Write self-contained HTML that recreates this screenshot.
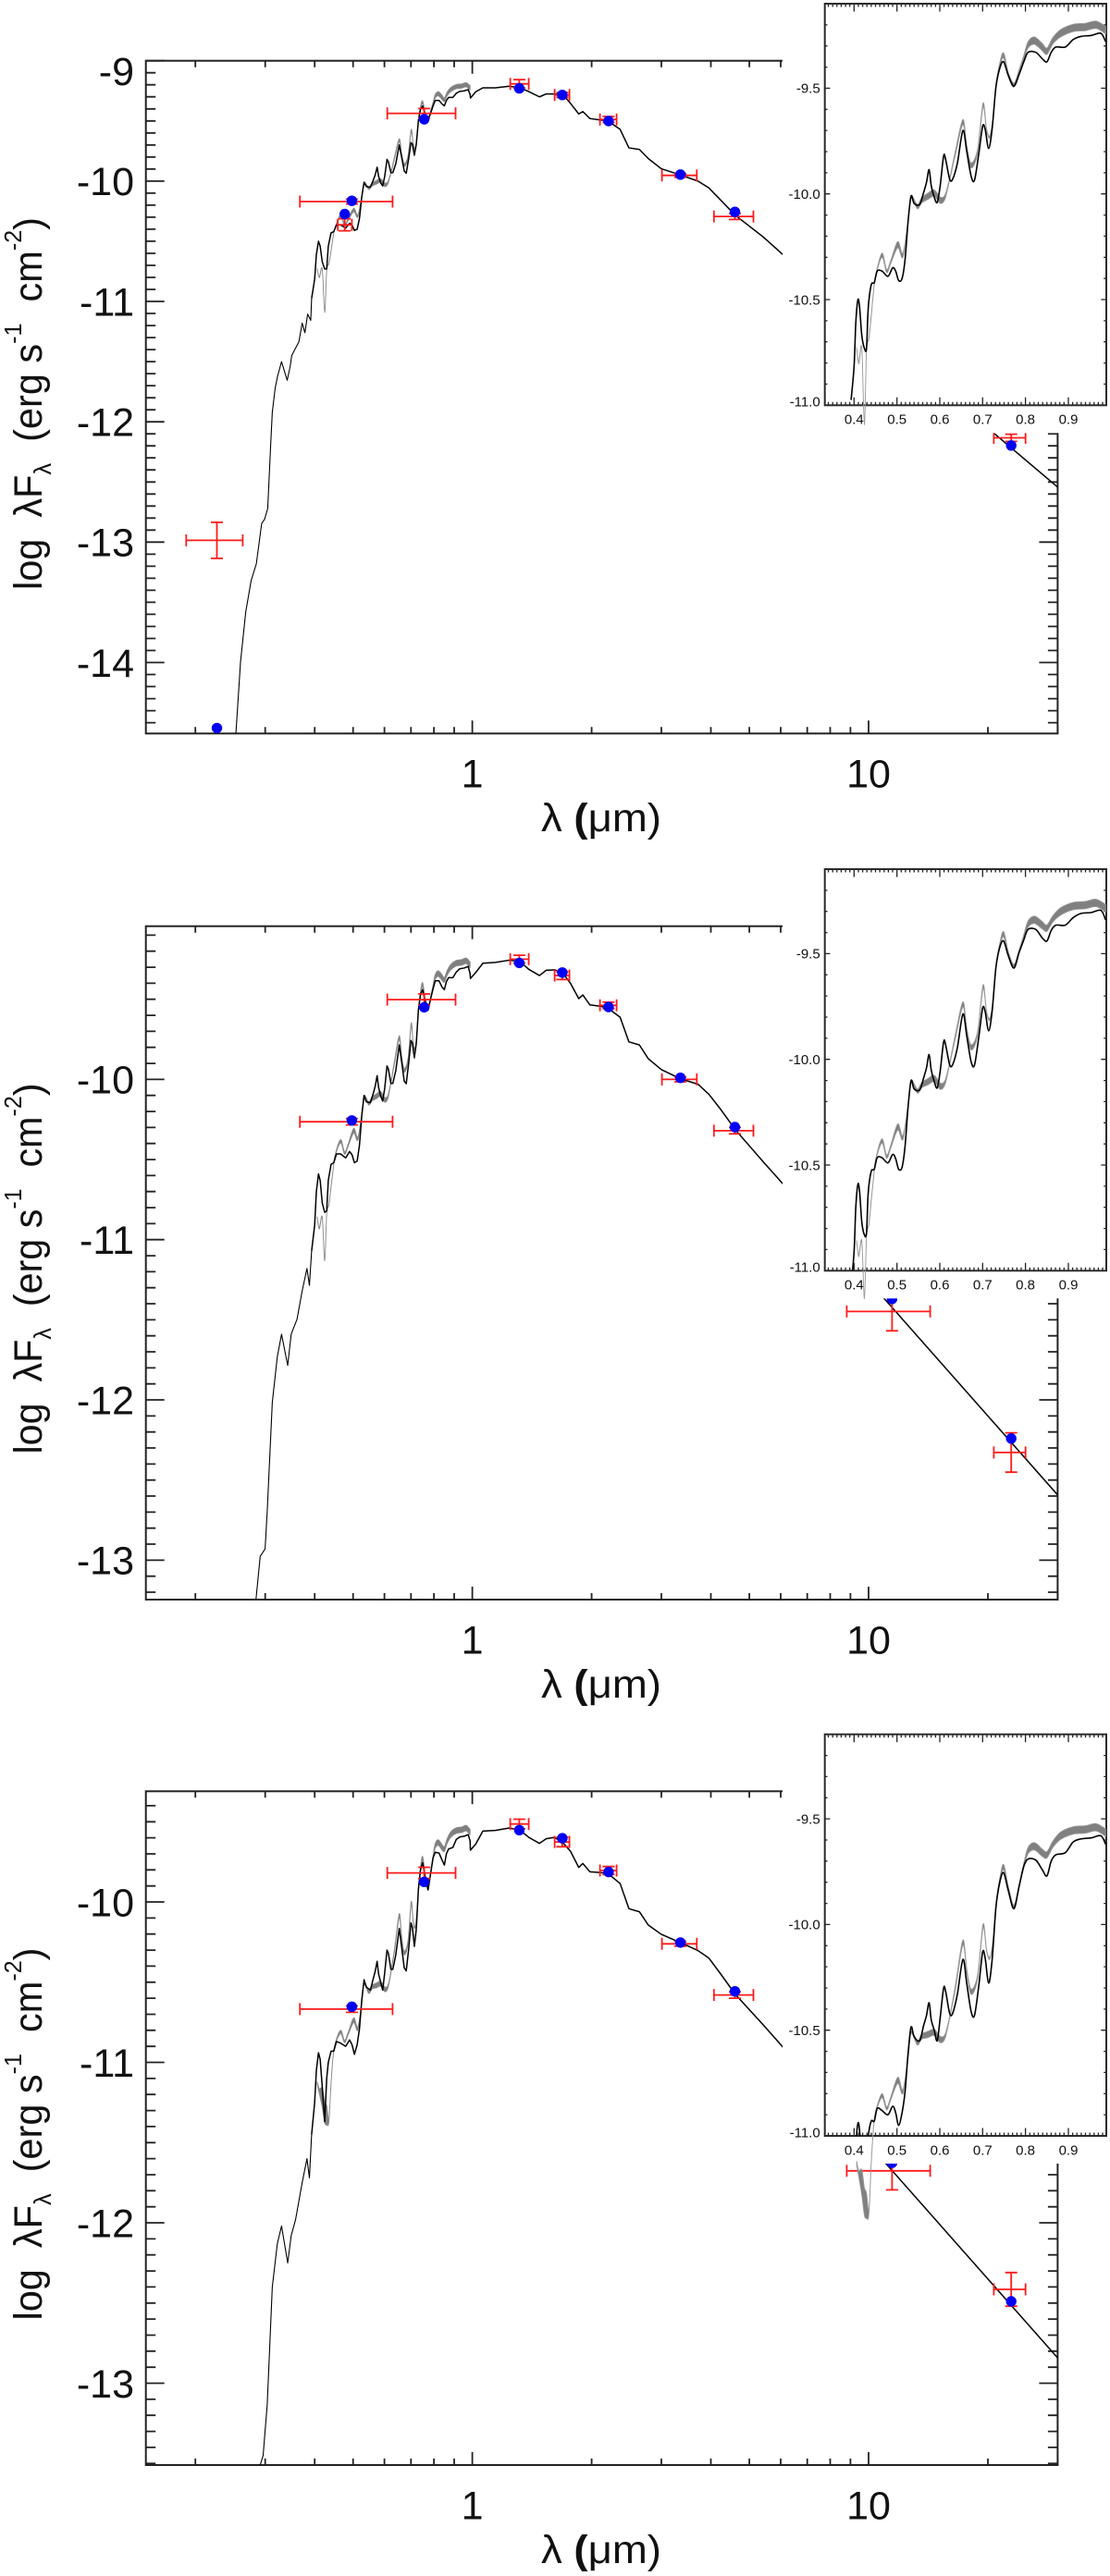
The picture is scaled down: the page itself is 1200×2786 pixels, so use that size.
<!DOCTYPE html>
<html lang="en">
<head>
<meta charset="utf-8">
<title>Spectral energy distributions</title>
<style>
html,body{margin:0;padding:0;background:#fff;}
svg{display:block;}
text{font-family:"Liberation Sans",sans-serif;fill:#111;white-space:pre;}
</style>
</head>
<body>
<svg id="chart" xmlns="http://www.w3.org/2000/svg" width="1200" height="2786" viewBox="0 0 1200 2786">
  <rect x="0" y="0" width="1200" height="2786" fill="#fff"/>
  <defs>
    <clipPath id="clip-main-0"><rect x="157.7" y="65.7" width="985.7" height="727.6"/></clipPath>
    <clipPath id="clip-main-1"><rect x="157.7" y="1001.7" width="985.7" height="728.3"/></clipPath>
    <clipPath id="clip-main-2"><rect x="157.7" y="1937.3" width="985.7" height="728.7"/></clipPath>
    <clipPath id="clip-inset-0"><rect x="891.7" y="4" width="304.3" height="434.3"/></clipPath>
    <clipPath id="clip-inset-1"><rect x="891.7" y="940" width="304.3" height="434.3"/></clipPath>
    <clipPath id="clip-inset-2"><rect x="891.7" y="1875.7" width="304.3" height="434.3"/></clipPath>
  </defs>

  <g id="panel-0"></g>
  <g id="panel-1"></g>
  <g id="panel-2"></g>

  <text transform="rotate(-90 45 436.5)" x="45" y="436.5" font-size="43" text-anchor="middle" textLength="403" lengthAdjust="spacingAndGlyphs">log  λF<tspan dy="10" font-size="26">λ</tspan><tspan dy="-10">  (erg s</tspan><tspan dy="-22" font-size="26">-1</tspan><tspan dy="22">  cm</tspan><tspan dy="-22" font-size="26">-2</tspan><tspan dy="22">)</tspan></text>
  <text transform="rotate(-90 45 1372)" x="45" y="1372" font-size="43" text-anchor="middle" textLength="401" lengthAdjust="spacingAndGlyphs">log  λF<tspan dy="10" font-size="26">λ</tspan><tspan dy="-10">  (erg s</tspan><tspan dy="-22" font-size="26">-1</tspan><tspan dy="22">  cm</tspan><tspan dy="-22" font-size="26">-2</tspan><tspan dy="22">)</tspan></text>
  <text transform="rotate(-90 45 2308)" x="45" y="2308" font-size="43" text-anchor="middle" textLength="403" lengthAdjust="spacingAndGlyphs">log  λF<tspan dy="10" font-size="26">λ</tspan><tspan dy="-10">  (erg s</tspan><tspan dy="-22" font-size="26">-1</tspan><tspan dy="22">  cm</tspan><tspan dy="-22" font-size="26">-2</tspan><tspan dy="22">)</tspan></text>

  <text x="650" y="899" font-size="43" text-anchor="middle" textLength="130" lengthAdjust="spacingAndGlyphs">λ <tspan font-weight="bold">(</tspan>μm)</text>
  <text x="650" y="1836" font-size="43" text-anchor="middle" textLength="130" lengthAdjust="spacingAndGlyphs">λ <tspan font-weight="bold">(</tspan>μm)</text>
  <text x="650" y="2772" font-size="43" text-anchor="middle" textLength="130" lengthAdjust="spacingAndGlyphs">λ <tspan font-weight="bold">(</tspan>μm)</text>
</svg>

<script>
// ---- axis tick values and labels ----
const mainXMajor = [1, 10];
const mainXMajorLabels = ["1", "10"];
const mainXMinor = [0.2, 0.3, 0.4, 0.5, 0.6, 0.7, 0.8, 0.9, 2, 3, 4, 5, 6, 7, 8, 9, 20, 30];
const p1YTicks = [-9, -10, -11, -12, -13, -14];
const p1YLabels = ["-9", "-10", "-11", "-12", "-13", "-14"];
const p23YTicks = [-10, -11, -12, -13];
const p23YLabels = ["-10", "-11", "-12", "-13"];
const insetXTicks = [0.4, 0.5, 0.6, 0.7, 0.8, 0.9];
const insetXLabels = ["0.4", "0.5", "0.6", "0.7", "0.8", "0.9"];
const insetYTicks = [-9.5, -10, -10.5, -11];
const insetYLabels = ["-9.5", "-10.0", "-10.5", "-11.0"];

// ---- shared wavelengths (micron) ----
const optLam = [.393,.400,.404,.409,.413,.418,.424,.429,.433,.440,.447,.454,.465,.479,.490,.497,.504,.512,.519,.526,.533,.540,.553,.562,.569,.575,.580,.587,.594,.601,.609,.614,.623,.630,.641,.654,.663,.673,.681,.691,.700,.706,.714,.722,.731,.740,.749,.760,.773,.785,.796,.806,.824,.839,.850,.860,.871,.893,.911,.929,.954,.976,.987];
const irLam = [.989,1.02,1.063,1.143,1.24,1.32,1.388,1.477,1.536,1.613,1.698,1.768,1.856,1.90,1.98,2.11,2.195,2.36,2.484,2.64,2.78,3.0,3.35,3.71,3.95,4.24,4.61,5.43,6.05,30];
const grayLam = [.406,.411,.418,.424,.429,.4345,.44,.445,.45,.465,.476,.486,.502,.514,.526,.533,.5475,.558,.573,.587,.601,.612,.623,.637,.654,.663,.673,.688,.701,.709,.7165,.724,.731,.74,.749,.76,.773,.785,.796,.806,.821,.839,.85,.864,.882,.911,.94,.965,.987];
const grayWidthA = [.005,.01,.005,.005,.005,.005,.005,.005,.008,.02,.015,.015,.03,.02,.01,.01,.02,.025,.03,.03,.03,.02,.01,.02,.025,.02,.025,.02,.02,.01,.01,.01,.01,.02,.025,.02,.02,.015,.02,.03,.035,.035,.03,.03,.035,.035,.035,.035,.035];
const grayWidthC = [.02,.03,.12,.13,.12,.02,.005,.005,.008,.02,.015,.015,.03,.02,.01,.01,.02,.025,.03,.03,.03,.02,.01,.02,.025,.02,.025,.02,.02,.01,.01,.01,.01,.02,.025,.02,.02,.015,.02,.03,.035,.035,.03,.03,.035,.035,.035,.035,.035];

// ---- photometric band wavelengths and widths ----
const lamLoP1 = [.1896,.4576,.367,.61,1.246,1.613,2.099,3.01,4.07,20.7];
const lamHiP1 = [.2634,.4966,.629,.907,1.388,1.758,2.312,3.686,5.12,24.9];
const photLamP1 = [.2267,.4764,.4965,.756,1.314,1.687,2.207,3.35,4.6,22.9];
const lamLoP23 = [.367,.61,1.246,1.613,2.099,3.01,4.07,8.81,20.7];
const lamHiP23 = [.629,.907,1.388,1.758,2.312,3.686,5.12,14.3,24.9];
const photLamP23 = [.4965,.756,1.314,1.687,2.207,3.35,4.6,11.46,22.9];

// ---- panel 1 series ----
const p1UvLam = [.253,.260,.268,.2765,.285,.294,.299,.3045,.3097,.3127,.318,.3225,.330,.341,.347,.350,.365,.372,.378,.384,.391];
const p1UvFlux = [-14.6,-13.995,-13.58,-13.32,-13.18,-12.845,-12.81,-12.72,-12.2,-11.92,-11.72,-11.62,-11.50,-11.655,-11.54,-11.45,-11.335,-11.18,-11.26,-11.105,-11.157];
const p1OptFlux = [-10.975,-10.815,-10.61,-10.50,-10.54,-10.67,-10.73,-10.73,-10.54,-10.43,-10.42,-10.365,-10.365,-10.39,-10.35,-10.365,-10.41,-10.40,-10.31,-10.13,-10.01,-10.045,-10.05,-9.995,-9.945,-9.885,-9.96,-10.015,-10.04,-9.96,-9.82,-9.84,-9.93,-9.93,-9.855,-9.70,-9.80,-9.915,-9.935,-9.81,-9.68,-9.695,-9.785,-9.695,-9.495,-9.405,-9.375,-9.44,-9.49,-9.435,-9.375,-9.33,-9.33,-9.36,-9.375,-9.33,-9.305,-9.305,-9.27,-9.255,-9.25,-9.24,-9.28];
const p1IrFlux = [-9.31,-9.258,-9.225,-9.225,-9.212,-9.225,-9.256,-9.30,-9.276,-9.276,-9.287,-9.353,-9.442,-9.422,-9.48,-9.493,-9.499,-9.57,-9.724,-9.737,-9.813,-9.898,-9.949,-10.0,-10.056,-10.16,-10.284,-10.466,-10.605,-12.543];
const p1GrayFlux = [-10.73,-10.80,-10.73,-11.09,-10.74,-10.685,-10.58,-10.47,-10.39,-10.29,-10.365,-10.32,-10.24,-10.29,-10.13,-10.015,-10.06,-10.03,-10.01,-9.995,-10.03,-10.015,-9.93,-9.80,-9.66,-9.78,-9.865,-9.80,-9.58,-9.695,-9.73,-9.65,-9.49,-9.39,-9.345,-9.435,-9.485,-9.42,-9.355,-9.295,-9.275,-9.305,-9.325,-9.275,-9.24,-9.215,-9.21,-9.2,-9.225];
const p1Model = [-14.545,-10.274,-10.164,-9.486,-9.23,-9.284,-9.501,-9.946,-10.256,-12.197];
const p1Obs = [-12.985,-10.363,-10.17,-9.437,-9.192,-9.284,-9.488,-9.953,-10.294,-12.133];
const p1Err = [.15,.05,.02,.04,.035,.02,.025,.015,.025,.03];

// ---- panel 2 series ----
const p2UvLam = [.2844,.2915,.2999,.3037,.3127,.322,.33,.342,.349,.361,.372,.3825,.388];
const p2UvFlux = [-13.246,-12.976,-12.93,-12.69,-12.016,-11.73,-11.59,-11.785,-11.59,-11.497,-11.32,-11.18,-11.285];
const p2OptFlux = [-11.07,-10.91,-10.70,-10.59,-10.63,-10.77,-10.83,-10.82,-10.63,-10.53,-10.52,-10.465,-10.465,-10.49,-10.45,-10.47,-10.52,-10.51,-10.41,-10.225,-10.10,-10.14,-10.145,-10.09,-10.04,-9.977,-10.05,-10.105,-10.135,-10.055,-9.916,-9.935,-10.025,-10.025,-9.945,-9.785,-9.89,-10.01,-10.027,-9.895,-9.757,-9.775,-9.865,-9.775,-9.565,-9.47,-9.44,-9.51,-9.568,-9.495,-9.435,-9.385,-9.385,-9.425,-9.44,-9.39,-9.365,-9.365,-9.33,-9.31,-9.305,-9.295,-9.34];
const p2IrFlux = [-9.37,-9.333,-9.275,-9.27,-9.256,-9.265,-9.313,-9.352,-9.319,-9.316,-9.342,-9.40,-9.496,-9.473,-9.535,-9.544,-9.554,-9.612,-9.766,-9.785,-9.871,-9.939,-9.996,-10.03,-10.092,-10.189,-10.314,-10.516,-10.646,-12.593];
const p2GrayFlux = [-10.86,-10.93,-10.86,-11.13,-10.84,-10.78,-10.67,-10.57,-10.48,-10.386,-10.46,-10.41,-10.32,-10.37,-10.22,-10.105,-10.15,-10.122,-10.105,-10.09,-10.127,-10.11,-10.02,-9.885,-9.74,-9.86,-9.943,-9.88,-9.657,-9.775,-9.81,-9.73,-9.565,-9.46,-9.408,-9.50,-9.56,-9.49,-9.42,-9.36,-9.34,-9.365,-9.379,-9.335,-9.30,-9.275,-9.27,-9.26,-9.285];
const p2Model = [-10.256,-9.55,-9.273,-9.333,-9.548,-9.99,-10.298,-11.37,-12.241];
const p2Obs = [-10.264,-9.502,-9.25,-9.352,-9.538,-10.0,-10.32,-11.448,-12.328];
const p2Err = [.02,.035,.025,.025,.02,.015,.02,.121,.123];

// ---- panel 3 series ----
const p3UvLam = [.2915,.2965,.3037,.3127,.322,.33,.342,.349,.358,.372,.3825,.388];
const p3UvFlux = [-13.51,-13.45,-13.13,-12.4,-12.13,-12.02,-12.25,-12.08,-11.98,-11.75,-11.60,-11.72];
const p3OptFlux = [-11.45,-11.25,-11.05,-10.94,-10.98,-11.15,-11.37,-11.1,-11.0,-10.93,-10.93,-10.87,-10.88,-10.90,-10.86,-10.89,-10.95,-10.89,-10.79,-10.61,-10.485,-10.53,-10.55,-10.48,-10.43,-10.37,-10.45,-10.50,-10.55,-10.44,-10.30,-10.32,-10.42,-10.42,-10.33,-10.165,-10.28,-10.41,-10.43,-10.29,-10.13,-10.16,-10.277,-10.17,-9.92,-9.80,-9.755,-9.84,-9.925,-9.82,-9.725,-9.69,-9.695,-9.74,-9.77,-9.70,-9.67,-9.66,-9.61,-9.595,-9.59,-9.58,-9.62];
const p3IrFlux = [-9.677,-9.639,-9.558,-9.554,-9.539,-9.554,-9.597,-9.635,-9.606,-9.597,-9.635,-9.683,-9.785,-9.76,-9.812,-9.817,-9.821,-9.885,-10.042,-10.061,-10.144,-10.202,-10.253,-10.303,-10.349,-10.451,-10.576,-10.768,-10.899,-12.842];
const p3GrayFlux = [-11.13,-11.18,-11.22,-11.31,-11.33,-11.36,-11.13,-10.97,-10.89,-10.81,-10.87,-10.82,-10.737,-10.79,-10.63,-10.51,-10.56,-10.53,-10.52,-10.51,-10.544,-10.53,-10.44,-10.29,-10.085,-10.22,-10.318,-10.25,-10.007,-10.12,-10.16,-10.08,-9.91,-9.79,-9.728,-9.83,-9.917,-9.82,-9.72,-9.65,-9.63,-9.66,-9.67,-9.62,-9.58,-9.555,-9.55,-9.54,-9.565];
const p3Model = [-10.653,-9.875,-9.552,-9.603,-9.813,-10.253,-10.557,-11.626,-12.49];
const p3Obs = [-10.668,-9.819,-9.514,-9.626,-9.804,-10.261,-10.58,-11.676,-12.415];
const p3Err = [.02,.035,.03,.03,.025,.015,.02,.119,.105];

const SVGNS = "http://www.w3.org/2000/svg";
const MAIN_L = 157.7, MAIN_R = 1143.4, LAM_MIN = 0.15, LAM_MAX = 30;
const INS_L = 891.7, INS_R = 1196, INS_XMIN = 0.3317, INS_XMAX = 0.9886, INS_YTOP = -9.10, INS_YBOT = -11, INS_H = 434.3;

const panels = [
  {top:65.7, bottom:793.3, yTop:-9, yBot:-14.59, insTop:4, coverTop:0,
   yTicks:p1YTicks, yLabels:p1YLabels,
   uvLam:p1UvLam, uvFlux:p1UvFlux, opt:p1OptFlux, ir:p1IrFlux, gray:p1GrayFlux, grayW:grayWidthA,
   photLam:photLamP1, lo:lamLoP1, hi:lamHiP1, model:p1Model, obs:p1Obs, err:p1Err},
  {top:1001.7, bottom:1730, yTop:-9.044, yBot:-13.246, insTop:940, coverTop:925,
   yTicks:p23YTicks, yLabels:p23YLabels,
   uvLam:p2UvLam, uvFlux:p2UvFlux, opt:p2OptFlux, ir:p2IrFlux, gray:p2GrayFlux, grayW:grayWidthA,
   photLam:photLamP23, lo:lamLoP23, hi:lamHiP23, model:p2Model, obs:p2Obs, err:p2Err},
  {top:1937.3, bottom:2666, yTop:-9.31, yBot:-13.51, insTop:1875.7, coverTop:1860,
   yTicks:p23YTicks, yLabels:p23YLabels,
   uvLam:p3UvLam, uvFlux:p3UvFlux, opt:p3OptFlux, ir:p3IrFlux, gray:p3GrayFlux, grayW:grayWidthC,
   photLam:photLamP23, lo:lamLoP23, hi:lamHiP23, model:p3Model, obs:p3Obs, err:p3Err}
];

function make(parent, tag, attrs, text) {
  const node = document.createElementNS(SVGNS, tag);
  for (const k in attrs) node.setAttribute(k, attrs[k]);
  if (text !== undefined) node.textContent = text;
  parent.appendChild(node);
  return node;
}
function linePath(xs, ys, sx, sy) {
  return xs.map((v, i) => (i ? "L" : "M") + sx(v).toFixed(2) + " " + sy(ys[i]).toFixed(2)).join("");
}
// rounded curve through the read points, for the inset's magnified view
function smoothSegs(px, py) {
  let d = "";
  const T = 0.16;
  for (let i = 0; i < px.length - 1; i++) {
    const a = Math.max(i - 1, 0), b = Math.min(i + 2, px.length - 1);
    const c1x = px[i] + (px[i + 1] - px[a]) * T, c1y = py[i] + (py[i + 1] - py[a]) * T;
    const c2x = px[i + 1] - (px[b] - px[i]) * T, c2y = py[i + 1] - (py[b] - py[i]) * T;
    d += `C${c1x.toFixed(2)} ${c1y.toFixed(2)} ${c2x.toFixed(2)} ${c2y.toFixed(2)} ${px[i + 1].toFixed(2)} ${py[i + 1].toFixed(2)}`;
  }
  return d;
}
function smoothPath(xs, ys, sx, sy) {
  const px = xs.map(sx), py = ys.map(sy);
  return `M${px[0].toFixed(2)} ${py[0].toFixed(2)}` + smoothSegs(px, py);
}
function bandPath(xs, ys, ws, sx, sy) {
  const px = xs.map(sx);
  const up = ys.map((v, i) => sy(v + ws[i] / 2));
  const dn = ys.map((v, i) => sy(v - ws[i] / 2));
  const rx = px.slice().reverse(), rd = dn.slice().reverse();
  return `M${px[0].toFixed(2)} ${up[0].toFixed(2)}` + smoothSegs(px, up) + `L${rx[0].toFixed(2)} ${rd[0].toFixed(2)}` + smoothSegs(rx, rd) + "Z";
}

const mainX = l => MAIN_L + (MAIN_R - MAIN_L) * (Math.log10(l) - Math.log10(LAM_MIN)) / (Math.log10(LAM_MAX) - Math.log10(LAM_MIN));
const insetX = l => INS_L + (INS_R - INS_L) * (l - INS_XMIN) / (INS_XMAX - INS_XMIN);

panels.forEach((p, idx) => {
  const g = document.getElementById("panel-" + idx);
  const mainY = v => p.top + (p.bottom - p.top) * (v - p.yTop) / (p.yBot - p.yTop);
  const insBottom = p.insTop + INS_H;
  const insetY = v => p.insTop + INS_H * (v - INS_YTOP) / (INS_YBOT - INS_YTOP);

  // main axes frame and ticks
  let t = "";
  mainXMajor.forEach(v => { const x = mainX(v).toFixed(1); t += `M${x} ${p.bottom}V${p.bottom - 14}M${x} ${p.top}V${p.top + 14}`; });
  mainXMinor.forEach(v => { const x = mainX(v).toFixed(1); t += `M${x} ${p.bottom}V${p.bottom - 7}M${x} ${p.top}V${p.top + 7}`; });
  for (let k = Math.ceil(p.yBot * 10); k <= Math.floor(p.yTop * 10); k++) {
    const y = mainY(k / 10).toFixed(1);
    const len = (k % 10 === 0) ? 20 : 10.5;
    t += `M${MAIN_L} ${y}H${MAIN_L + len}M${MAIN_R} ${y}H${MAIN_R - len}`;
  }
  const ticks = make(g, "path", {d:t, fill:"none", stroke:"#222", "stroke-width":1.8});
  
  
  const frame = make(g, "rect", {x:MAIN_L, y:p.top, width:MAIN_R - MAIN_L, height:p.bottom - p.top, fill:"none", stroke:"#222", "stroke-width":2});
  
  

  // main tick labels
  p.yTicks.forEach((v, i) => {
    const yy = Math.max(mainY(v), p.top + 11);
    const lab = make(g, "text", {x:145, y:(yy + 15.3).toFixed(1), "font-size":43, "text-anchor":"end"}, p.yLabels[i]);
    
    
  });
  mainXMajor.forEach((v, i) => {
    const lab = make(g, "text", {x:mainX(v).toFixed(1), y:p.bottom + 58.4, "font-size":43, "text-anchor":"middle"}, mainXMajorLabels[i]);
    
    
  });

  // main series: the steep ultraviolet rise is drawn finer than the rest
  const mg = make(g, "g", {"clip-path":`url(#clip-main-${idx})`});
  
  
  const band = make(mg, "path", {d:bandPath(grayLam, p.gray, p.grayW, mainX, mainY), fill:"#808080", stroke:"#8a8a8a", "stroke-width":0.9, "stroke-linejoin":"round"});
  
  
  const uvLine = make(mg, "path", {d:linePath(p.uvLam.concat(optLam[0]), p.uvFlux.concat(p.opt[0]), mainX, mainY), fill:"none", stroke:"#000", "stroke-width":1.1, "stroke-linejoin":"round"});
  
  
  const black = make(mg, "path", {d:linePath(optLam.concat(irLam), p.opt.concat(p.ir), mainX, mainY), fill:"none", stroke:"#000", "stroke-width":1.5, "stroke-linejoin":"round"});
  
  

  // observed points with error bars
  p.photLam.forEach((l, i) => {
    const cx = mainX(l), cy = mainY(p.obs[i]), x0 = mainX(p.lo[i]), x1 = mainX(p.hi[i]);
    const y0 = mainY(p.obs[i] + p.err[i]), y1 = mainY(p.obs[i] - p.err[i]);
    const d = `M${x0.toFixed(1)} ${cy.toFixed(1)}H${x1.toFixed(1)}M${x0.toFixed(1)} ${(cy - 6.5).toFixed(1)}v13M${x1.toFixed(1)} ${(cy - 6.5).toFixed(1)}v13M${cx.toFixed(1)} ${y0.toFixed(1)}V${y1.toFixed(1)}M${(cx - 6.5).toFixed(1)} ${y0.toFixed(1)}h13M${(cx - 6.5).toFixed(1)} ${y1.toFixed(1)}h13`;
    const bar = make(g, "path", {d:d, fill:"none", stroke:"#ff1a1a", "stroke-width":1.8});
    
    
  });
  p.photLam.forEach((l, i) => {
    const dot = make(g, "circle", {cx:mainX(l).toFixed(1), cy:mainY(p.model[i]).toFixed(1), r:5.7, fill:"#0000f5"});
    
    
  });

  // white cover behind the inset
  const cover = make(g, "rect", {x:846, y:p.coverTop, width:354, height:insBottom + 30 - p.coverTop, fill:"#fff"});
  
  

  // inset axes
  const ins = make(g, "g", {});
  
  
  let it = "";
  for (let k = 34; k <= 98; k++) {
    const x = insetX(k / 100).toFixed(1);
    const len = (k % 10 === 0) ? 8.5 : 3.5;
    it += `M${x} ${p.insTop}v${len}M${x} ${insBottom.toFixed(1)}v${-len}`;
  }
  for (let k = -110; k <= -92; k++) {
    const y = insetY(k / 10).toFixed(1);
    const len = (k % 5 === 0) ? 5.7 : 2.8;
    it += `M${INS_L} ${y}h${len}M${INS_R} ${y}h${-len}`;
  }
  const iticks = make(ins, "path", {d:it, fill:"none", stroke:"#222", "stroke-width":1.3});
  
  
  const iframe = make(ins, "rect", {x:INS_L, y:p.insTop, width:INS_R - INS_L, height:INS_H, fill:"none", stroke:"#2a2a2a", "stroke-width":2});
  
  
  insetYTicks.forEach((v, i) => {
    const yy = insetY(v) + (i === insetYTicks.length - 1 ? -4 : 0);
    const lab = make(ins, "text", {x:886.7, y:(yy + 5.3).toFixed(1), "font-size":15, "text-anchor":"end"}, insetYLabels[i]);
    
    
  });
  insetXTicks.forEach((v, i) => {
    const lab = make(ins, "text", {x:insetX(v).toFixed(1), y:(insBottom + 20.3).toFixed(1), "font-size":15, "text-anchor":"middle"}, insetXLabels[i]);
    
    
  });

  // inset series: gray runs past the axis, black is clipped to it
  const iband = make(ins, "path", {d:bandPath(grayLam, p.gray, p.grayW, insetX, insetY), fill:"#808080", stroke:"#999", "stroke-width":0.9, "stroke-linejoin":"round"});
  
  
  const iblack = make(ins, "path", {d:smoothPath(optLam, p.opt, insetX, insetY), fill:"none", stroke:"#000", "stroke-width":1.6, "stroke-linejoin":"round", "clip-path":`url(#clip-inset-${idx})`});
  
  
});
</script>
</body>
</html>
